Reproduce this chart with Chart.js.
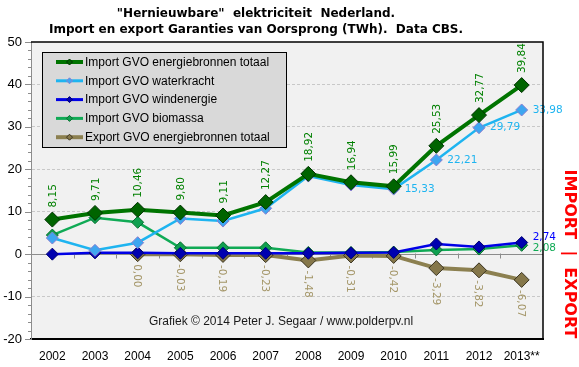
<!DOCTYPE html>
<html>
<head>
<meta charset="utf-8">
<script src="https://cdn.jsdelivr.net/npm/chart.js@4.4.1/dist/chart.umd.min.js"></script>
<style>
html, body { margin: 0; padding: 0; background: #fff; }
#wrap { width: 579px; height: 367px; }
</style>
</head>
<body>
<div id="wrap"><canvas id="chart"></canvas></div>
<script>
// data (TWh)
var years = ["2002", "2003", "2004", "2005", "2006", "2007", "2008", "2009", "2010", "2011", "2012", "2013**"];
var importTotaal = [8.15, 9.71, 10.46, 9.80, 9.11, 12.27, 18.92, 16.94, 15.99, 25.53, 32.77, 39.84];
var importWater = [3.8, 0.9, 2.7, 8.4, 7.8, 10.8, 18.4, 16.3, 15.33, 22.21, 29.79, 33.98];
var importWind = [0.0, 0.3, 0.3, 0.2, 0.2, 0.2, 0.2, 0.3, 0.4, 2.4, 1.7, 2.74];
var importBiomassa = [4.5, 8.6, 7.5, 1.5, 1.5, 1.5, 0.4, 0.4, 0.5, 1.0, 1.2, 2.08];
var exportTotaal = [null, null, 0.00, -0.03, -0.19, -0.23, -1.48, -0.31, -0.42, -3.29, -3.82, -6.07];
var yTicks = [-20, -10, 0, 10, 20, 30, 40, 50];

function fmt(v) { return v.toFixed(2).replace('.', ','); }

var bgPlugin = {
  id: 'bg',
  beforeDraw: function (chart) {
    var ctx = chart.ctx, a = chart.chartArea;
    ctx.save();
    ctx.fillStyle = '#f1f1f1';
    ctx.fillRect(a.left, a.top, a.right - a.left, a.bottom - a.top);
    ctx.restore();
  },
  beforeDatasetsDraw: function (chart) {
    var ctx = chart.ctx, a = chart.chartArea, y = chart.scales.y;
    ctx.save();
    // zero line with category ticks
    var y0 = Math.round(y.getPixelForValue(0)) + 0.5;
    ctx.strokeStyle = '#8c8c8c';
    ctx.lineWidth = 1;
    ctx.beginPath();
    ctx.moveTo(a.left, y0); ctx.lineTo(a.right, y0);
    var step = (a.right - a.left) / years.length;
    for (var i = 1; i < years.length; i++) {
      var xx = Math.round(a.left + i * step) + 0.5;
      ctx.moveTo(xx, y0 - 1); ctx.lineTo(xx, y0 + 4);
    }
    ctx.stroke();
    // minor ticks on the left axis
    ctx.beginPath();
    for (var v = -20; v <= 50; v += 2) {
      var yy = Math.round(y.getPixelForValue(v)) + 0.5;
      var len = (v % 10 === 0) ? 6 : 3;
      ctx.moveTo(a.left - len, yy); ctx.lineTo(a.left, yy);
    }
    ctx.stroke();
    ctx.restore();
  },
  afterDraw: function (chart) {
    var ctx = chart.ctx, a = chart.chartArea;
    ctx.save();
    ctx.strokeStyle = '#000';
    ctx.lineWidth = 1.5;
    ctx.beginPath();
    ctx.moveTo(a.left, a.top); ctx.lineTo(a.right, a.top); ctx.lineTo(a.right, a.bottom);
    ctx.stroke();

    // titles
    ctx.fillStyle = '#000';
    ctx.textAlign = 'center';
    ctx.textBaseline = 'middle';
    ctx.font = 'bold 12px "DejaVu Sans"';
    ctx.fillText('"Hernieuwbare"  elektriciteit  Nederland.', 256, 14);
    ctx.fillText('Import en export Garanties van Oorsprong (TWh).  Data CBS.', 256, 30);

    // copyright
    ctx.font = '12px "Liberation Sans"';
    ctx.textAlign = 'left';
    ctx.fillStyle = '#1a1a1a';
    ctx.fillText('Grafiek \u00a9 2014 Peter J. Segaar / www.polderpv.nl', 149, 322);

    // side text
    ctx.translate(569, 254);
    ctx.rotate(Math.PI / 2);
    ctx.fillStyle = '#ff0000';
    ctx.textAlign = 'center';
    ctx.font = 'bold 16px "DejaVu Sans"';
    ctx.fillText('IMPORT  |  EXPORT', 0, 0);
    ctx.restore();
  }
};

var labelPlugin = {
  id: 'pointLabels',
  afterDatasetsDraw: function (chart) {
    var ctx = chart.ctx;
    chart.data.datasets.forEach(function (ds, di) {
      var lb = ds.pointLabels;
      if (!lb) return;
      var pts = chart.getDatasetMeta(di).data;
      ctx.save();
      ctx.fillStyle = lb.color;
      ctx.font = lb.font;
      pts.forEach(function (p, i) {
        var v = ds.data[i];
        if (v === null || i < lb.from) return;
        var txt = fmt(v);
        if (lb.mode === 'up') {
          ctx.save();
          ctx.translate(p.x + 1, p.y - 12);
          ctx.rotate(-Math.PI / 2);
          ctx.textAlign = 'left';
          ctx.textBaseline = 'middle';
          ctx.fillText(txt, 0, 0);
          ctx.restore();
        } else if (lb.mode === 'down') {
          ctx.save();
          ctx.translate(p.x - 1, p.y + 10);
          ctx.rotate(Math.PI / 2);
          ctx.textAlign = 'left';
          ctx.textBaseline = 'middle';
          ctx.fillText(txt, 0, 0);
          ctx.restore();
        } else {
          ctx.textAlign = 'left';
          ctx.textBaseline = 'middle';
          ctx.fillText(txt, p.x + 11, p.y + (lb.dy || 0));
        }
      });
      ctx.restore();
    });
  }
};

var legendPlugin = {
  id: 'boxLegend',
  afterDraw: function (chart) {
    var ctx = chart.ctx;
    var bx = 42, by = 52, bw = 244, bh = 95;
    ctx.save();
    ctx.fillStyle = '#d9d9d9';
    ctx.fillRect(bx, by, bw, bh);
    ctx.strokeStyle = '#000';
    ctx.lineWidth = 1;
    ctx.strokeRect(bx + 0.5, by + 0.5, bw, bh);
    ctx.font = '12px "Liberation Sans"';
    ctx.textBaseline = 'middle';
    ctx.textAlign = 'left';
    chart.data.datasets.forEach(function (ds, i) {
      var yy = 62 + i * 18.8;
      ctx.strokeStyle = ds.borderColor;
      ctx.lineWidth = ds.legendLine;
      ctx.beginPath();
      ctx.moveTo(56, yy); ctx.lineTo(83, yy);
      ctx.stroke();
      ctx.fillStyle = ds.pointBackgroundColor;
      ctx.strokeStyle = ds.pointBorderColor;
      ctx.lineWidth = 1;
      ctx.beginPath();
      ctx.moveTo(69.5, yy - 3); ctx.lineTo(72.5, yy); ctx.lineTo(69.5, yy + 3); ctx.lineTo(66.5, yy);
      ctx.closePath();
      ctx.fill(); ctx.stroke();
      ctx.fillStyle = '#000';
      ctx.fillText(ds.label, 85, yy + 0.5);
    });
    ctx.restore();
  }
};

new Chart(document.getElementById('chart'), {
  type: 'line',
  data: {
    labels: years,
    datasets: [
      {
        label: 'Import GVO energiebronnen totaal',
        data: importTotaal,
        borderColor: '#007400',
        borderWidth: 4,
        legendLine: 4,
        pointStyle: 'rectRot',
        pointRadius: 7.5,
        pointBackgroundColor: '#006400',
        pointBorderColor: '#003300',
        pointBorderWidth: 1,
        pointLabels: { mode: 'up', color: '#008000', font: '10.5px "DejaVu Sans"', from: 0 }
      },
      {
        label: 'Import GVO waterkracht',
        data: importWater,
        borderColor: '#1eb4f0',
        borderWidth: 2.5,
        legendLine: 3,
        pointStyle: 'rectRot',
        pointRadius: 6,
        pointBackgroundColor: '#3da6f0',
        pointBorderColor: '#8a7fd0',
        pointBorderWidth: 1,
        pointLabels: { mode: 'right', color: '#1eb4f0', font: '10.5px "DejaVu Sans"', from: 8 }
      },
      {
        label: 'Import GVO windenergie',
        data: importWind,
        borderColor: '#0000e6',
        borderWidth: 2.5,
        legendLine: 3,
        pointStyle: 'rectRot',
        pointRadius: 6,
        pointBackgroundColor: '#0000b0',
        pointBorderColor: '#000070',
        pointBorderWidth: 1,
        pointLabels: { mode: 'right', color: '#0000ff', font: '10.5px "DejaVu Sans"', from: 11, dy: -5 }
      },
      {
        label: 'Import GVO biomassa',
        data: importBiomassa,
        borderColor: '#10aa55',
        borderWidth: 2.5,
        legendLine: 3,
        pointStyle: 'rectRot',
        pointRadius: 6,
        pointBackgroundColor: '#10a050',
        pointBorderColor: '#087030',
        pointBorderWidth: 1,
        pointLabels: { mode: 'right', color: '#10aa55', font: '10.5px "DejaVu Sans"', from: 11, dy: 3 }
      },
      {
        label: 'Export GVO energiebronnen totaal',
        data: exportTotaal,
        borderColor: '#8c8050',
        borderWidth: 4,
        legendLine: 4,
        pointStyle: 'rectRot',
        pointRadius: 7.5,
        pointBackgroundColor: '#85774a',
        pointBorderColor: '#3a3320',
        pointBorderWidth: 1,
        pointLabels: { mode: 'down', color: '#a49668', font: '10.5px "DejaVu Sans"', from: 2 }
      }
    ]
  },
  options: {
    responsive: true,
    maintainAspectRatio: false,
    animation: false,
    devicePixelRatio: 1,
    layout: { padding: { top: 42, right: 36, left: 0, bottom: 0 } },
    plugins: {
      legend: { display: false },
      title: { display: false },
      tooltip: { enabled: false }
    },
    elements: { line: { tension: 0 } },
    scales: {
      x: {
        offset: true,
        grid: { display: false },
        border: { color: '#000', width: 2 },
        ticks: { color: '#000', font: { family: 'Liberation Sans', size: 12 }, padding: 2, maxRotation: 0 },
        afterFit: function (s) { s.height = 28; }
      },
      y: {
        min: -20,
        max: 50,
        afterBuildTicks: function (s) { s.ticks = yTicks.map(function (v) { return { value: v }; }); },
        grid: {
          color: function (c) { return c.tick.value === 0 || c.tick.value === 50 || c.tick.value === -20 ? 'rgba(0,0,0,0)' : '#c8c8c8'; },
          drawTicks: false
        },
        border: { color: '#8c8c8c', width: 1, dash: [3, 2] },
        ticks: { color: '#000', font: { family: 'Liberation Sans', size: 13 }, padding: 9 },
        afterFit: function (s) { s.width = 31; }
      }
    }
  },
  plugins: [bgPlugin, labelPlugin, legendPlugin]
});
</script>
</body>
</html>
